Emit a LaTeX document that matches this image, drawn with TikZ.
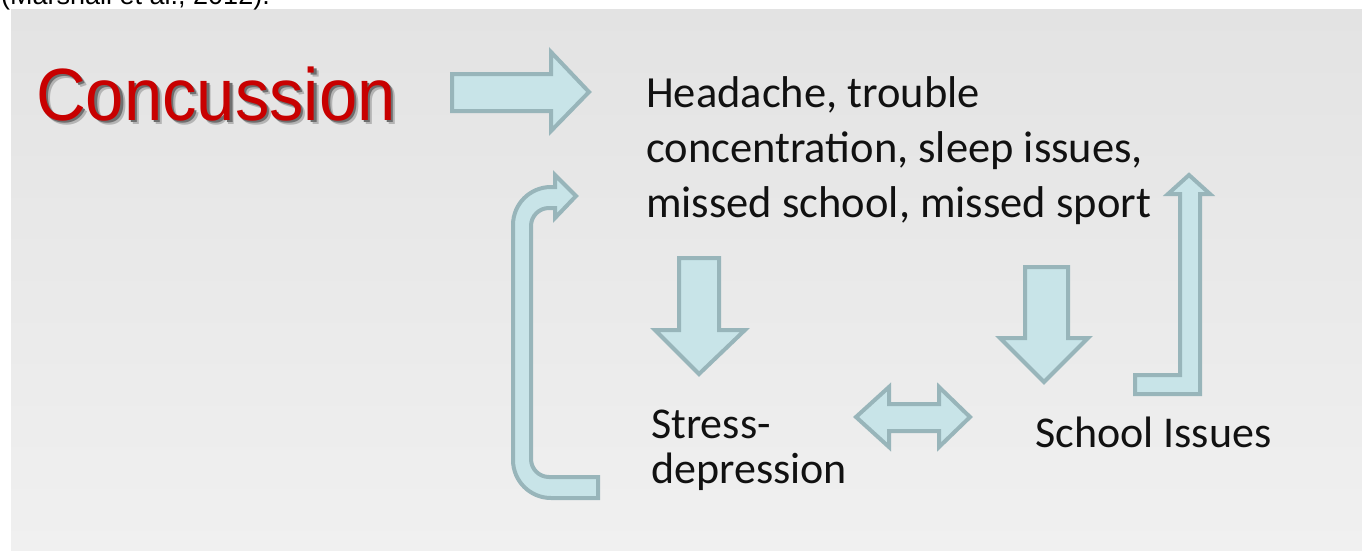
\documentclass[tikz,border=0pt]{standalone}
\usepackage{fontspec}
\setmainfont{Carlito}
\newfontfamily\arialf{Liberation Sans}
\definecolor{panelTop}{HTML}{E3E3E3}
\definecolor{panelBot}{HTML}{F0F0F0}
\definecolor{arrowFill}{HTML}{C8E4E8}
\definecolor{arrowLine}{HTML}{98B5BA}
\definecolor{concRed}{HTML}{C80000}
\definecolor{shadowFar}{HTML}{B4B4B4}
\definecolor{shadowNear}{HTML}{6E6E6E}
\definecolor{txt}{HTML}{111111}
\tikzset{
  blockarrow/.style={fill=arrowFill, draw=arrowLine, line width=4pt, line join=miter},
  bodytext/.style={anchor=base west, inner sep=0pt, text=txt, align=left,
    font=\fontsize{44.5}{55}\selectfont},
  lowtext/.style={anchor=base west, inner sep=0pt, text=txt, align=left,
    font=\fontsize{44}{45}\selectfont},
  titletext/.style={anchor=base west, inner sep=0pt,
    font=\arialf\fontsize{74}{74}\selectfont},
}
\newcommand{\shadowed}[1]{%
  \rlap{\hspace{4.5pt}\raisebox{-4.5pt}{\color{shadowFar}#1}}%
  \rlap{\hspace{2.5pt}\raisebox{-2.5pt}{\color{shadowNear}#1}}%
  {\color{concRed}#1}}
\begin{document}
\begin{tikzpicture}[x=1pt,y=-1pt]
\useasboundingbox (0,0) rectangle (1362,551);
\clip (0,0) rectangle (1362,551);
\fill[white] (0,0) rectangle (1362,551);
\shade[top color=panelTop, bottom color=panelBot] (11,10) rectangle (1362,551);

% citation line, cut off at the top
\node[anchor=base west, inner sep=0pt, font=\arialf\fontsize{27}{27}\selectfont] (cite) at (1,5) {(Marshall et al., 2012).};

% title with shadow
\node[titletext, xscale=0.93] (title) at (36,120) {\shadowed{Concussion}};

% texts
\node[bodytext] (symptoms) at (646,217) {Headache, trouble\\concentration, sleep issues,\\missed school, missed sport};
\node[lowtext] (stress) at (651,483) {Stress-\\depression};
\node[lowtext] (school) at (1035,447) {School Issues};

% right arrow
\draw[blockarrow] (452,74) -- (551,74) -- (551,52) -- (589,92) -- (551,131) -- (551,111) -- (452,111) -- cycle;

% down arrows
\draw[blockarrow] (679,258) -- (719,258) -- (719,330) -- (745,330) -- (699,374) -- (655,330) -- (679,330) -- cycle;
\draw[blockarrow] (1025,267) -- (1068,267) -- (1068,338) -- (1088,338) -- (1044,382) -- (1000,338) -- (1025,338) -- cycle;

% double arrow
\draw[blockarrow] (856,417) -- (889,387) -- (889,404) -- (939,404) -- (939,387) -- (970,417) -- (939,447) -- (939,431) -- (889,431) -- (889,447) -- cycle;

% up L arrow
\draw[blockarrow] (1135,375) -- (1180,375) -- (1180,194) -- (1168,194) -- (1189,175) -- (1210,194) -- (1200,194) -- (1200,394) -- (1135,394) -- cycle;

% loop arrow
\draw[blockarrow] (598,498) [rounded corners=38] -- (513,498) -- (513,187) [sharp corners] -- (555,187) -- (555,175) -- (576,196) -- (555,218) -- (555,208) [rounded corners=18] -- (531,208) -- (531,477) [sharp corners] -- (598,477) -- cycle;
\end{tikzpicture}
\end{document}
